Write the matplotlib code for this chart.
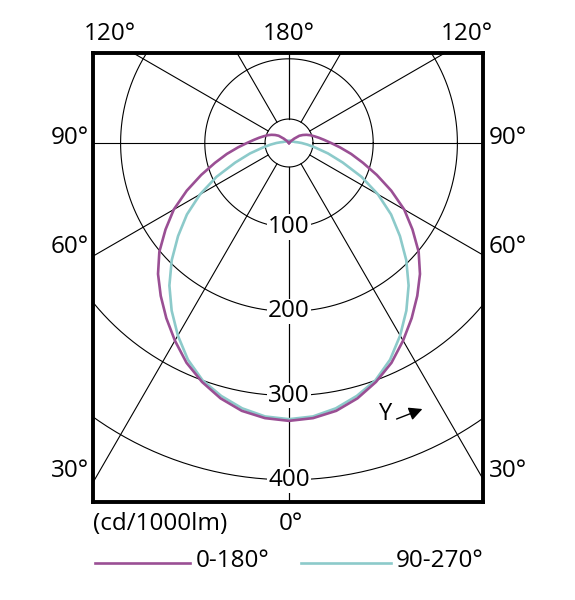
import numpy as np
import matplotlib
matplotlib.use('Agg')
import matplotlib.pyplot as plt

plt.rcParams['font.family'] = ['Open Sans', 'DejaVu Sans']

# luminous intensity (cd/1000lm), gamma 0..180 in 5 deg steps
gamma = [0, 5, 10, 15, 20, 25, 30, 35, 40, 45, 50, 55, 60, 65, 70, 75, 80, 85, 90,
         95, 100, 105, 110, 115, 120, 125, 130, 135, 140, 145, 150, 155, 160, 165, 170, 175, 180]
c0_180 = [330, 328, 323, 314, 302, 288, 271, 254, 237, 220, 201, 179, 158, 134, 111, 91, 75, 61, 50,
          42, 36, 31, 27, 23, 19, 15, 8, 3, 1, 0, 0, 0, 0, 0, 0, 0, 0]
c90_270 = [328, 326, 320, 311, 300, 284, 264, 243, 221, 197, 172, 148, 122, 95, 68, 48, 32, 22, 15,
           10, 7, 6, 5, 4, 4, 3, 3, 3, 3, 3, 3, 3, 3, 2, 2, 2, 2]

rings = [100, 200, 300, 400]
spokes = [0, 30, 60, 90, 120, 150, 180]
series_names = ['0-180°', '90-270°']
purple = '#9a4f94'
teal = '#8ccaca'

S = 0.842  # px per cd
CX, CY = 289, 143


def px(x, y):
    return (x - CX) / S, (y - CY) / S


fig = plt.figure(figsize=(5.75, 6), dpi=100)
ax = fig.add_axes([93 / 575, 98 / 600, 390 / 575, 449 / 600])
ax.set_xlim(px(93, 0)[0], px(483, 0)[0])
ax.set_ylim(px(0, 502)[1], px(0, 53)[1])
ax.set_xticks([])
ax.set_yticks([])
for sp in ax.spines.values():
    sp.set_linewidth(2.8)
    sp.set_zorder(10)

# grid circles
t = np.linspace(0, 2 * np.pi, 400)
r0 = 28.5
ax.plot(r0 * np.cos(t), r0 * np.sin(t), color='black', lw=0.8, zorder=1)
for r in rings:
    ax.plot(r * np.cos(t), r * np.sin(t), color='black', lw=0.8, zorder=1)

# spokes
for g in spokes:
    a = np.radians(g)
    for side in (-1, 1):
        ax.plot([side * r0 * np.sin(a), side * 1000 * np.sin(a)],
                [r0 * np.cos(a), 1000 * np.cos(a)], color='black', lw=0.8, zorder=1)

fs = 17.5
for r in rings:
    ax.text(0, r, str(r), ha='center', va='center', fontsize=fs, zorder=3,
            bbox=dict(facecolor='white', edgecolor='none', pad=0.5))

# curves
g = np.radians(np.array(gamma))
for vals, col in ((c90_270, teal), (c0_180, purple)):
    v = np.array(vals, dtype=float)
    xs = np.concatenate([-v[::-1] * np.sin(g[::-1]), v[1:] * np.sin(g[1:])])
    ys = np.concatenate([v[::-1] * np.cos(g[::-1]), v[1:] * np.cos(g[1:])])
    ax.plot(xs, ys, color=col, lw=1.9, zorder=4, solid_joinstyle='round')

# angle labels around frame
for label, x, y, ha in [('120°', 110, 34, 'center'), ('180°', 289, 34, 'center'), ('120°', 467, 34, 'center'),
                        ('90°', 89, 138, 'right'), ('60°', 89, 247, 'right'), ('30°', 89, 471, 'right'),
                        ('90°', 489, 138, 'left'), ('60°', 489, 247, 'left'), ('30°', 489, 471, 'left'),
                        ('0°', 291, 524, 'center'), ('(cd/1000lm)', 93, 524, 'left')]:
    ax.text(*px(x, y), label, ha=ha, va='center', fontsize=fs, clip_on=False)

# Y arrow
ax.text(*px(386, 414), 'Y', ha='center', va='center', fontsize=17)
ax.annotate('', xy=px(425, 408), xytext=px(394, 420),
            arrowprops=dict(arrowstyle='-|>', color='black', lw=1.0, mutation_scale=20))

# legend
ax.plot([px(95, 0)[0], px(190, 0)[0]], [px(0, 563)[1]] * 2, color=purple, lw=1.9, clip_on=False)
ax.text(*px(196, 561), series_names[0], ha='left', va='center', fontsize=fs, clip_on=False)
ax.plot([px(301, 0)[0], px(391, 0)[0]], [px(0, 563)[1]] * 2, color=teal, lw=1.9, clip_on=False)
ax.text(*px(396, 561), series_names[1], ha='left', va='center', fontsize=fs, clip_on=False)

fig.savefig('out.png', dpi=100, facecolor='white')
